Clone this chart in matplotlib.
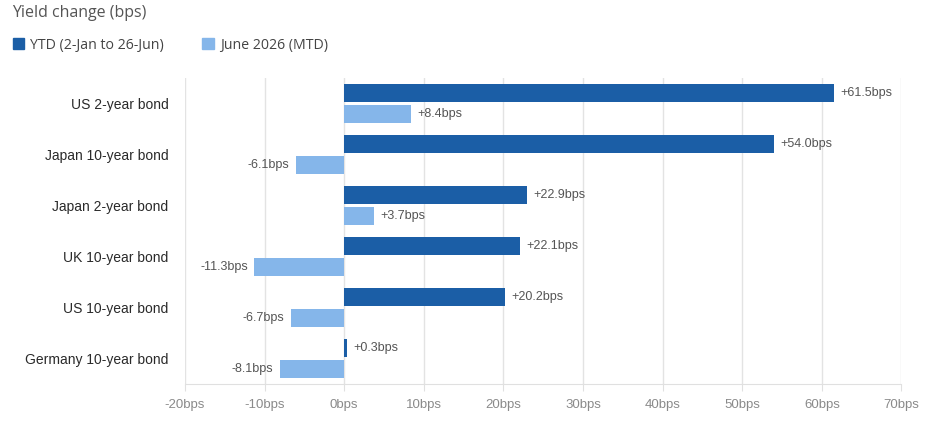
import numpy as np
import matplotlib
matplotlib.use("Agg")
import matplotlib.pyplot as plt

bonds = ["US 2-year bond", "Japan 10-year bond", "Japan 2-year bond",
         "UK 10-year bond", "US 10-year bond", "Germany 10-year bond"]
ytd = [61.5, 54.0, 22.9, 22.1, 20.2, 0.3]
mtd = [8.4, -6.1, 3.7, -11.3, -6.7, -8.1]
ticks = [-20, -10, 0, 10, 20, 30, 40, 50, 60, 70]

DARK = "#1b5ea6"
LIGHT = "#85b6ea"

plt.rcParams["font.family"] = ["Liberation Sans", "DejaVu Sans"]

fig = plt.figure(figsize=(9.27, 4.21), dpi=100)
ax = fig.add_axes([0.1996, 0.088, 0.7728, 0.727])

y = np.arange(len(bonds))
h = 0.35
off = 0.2
ax.barh(y - off, ytd, height=h, color=DARK, zorder=3)
ax.barh(y + off, mtd, height=h, color=LIGHT, zorder=3)

def fmt(v):
    return f"+{v:.1f}bps" if v >= 0 else f"{v:.1f}bps"

for i, v in enumerate(ytd):
    ax.text(v + 0.8 if v >= 0 else v - 0.8, i - off, fmt(v),
            ha="left" if v >= 0 else "right", va="center",
            fontsize=9, color="#555555", zorder=4)
for i, v in enumerate(mtd):
    ax.text(v + 0.8 if v >= 0 else v - 0.8, i + off, fmt(v),
            ha="left" if v >= 0 else "right", va="center",
            fontsize=9, color="#555555", zorder=4)

ax.set_xlim(-20, 70)
ax.set_ylim(len(bonds) - 0.5, -0.5)
ax.set_xticks(ticks)
ax.set_xticklabels([f"{t}bps" for t in ticks], color="#8a8a8a", fontsize=9.5,
                   family=["Liberation Sans Narrow", "Liberation Sans"])
ax.set_yticks(y)
ax.set_yticklabels(bonds, fontsize=10, color="#2a2a2a")
ax.tick_params(axis="y", length=0, pad=12)
ax.tick_params(axis="x", length=5, color="#e0e0e0", pad=6)
ax.grid(axis="x", color="#e3e3e3", linewidth=1, zorder=0)
for s in ["top", "right", "left"]:
    ax.spines[s].set_visible(False)
ax.spines["bottom"].set_color("#e0e0e0")

fig.text(12 / 927, 1 - 13 / 421, "Yield change (bps)", fontsize=11.5,
         color="#555555", va="center", family=["Open Sans", "DejaVu Sans"])

# legend
handles = [plt.Rectangle((0, 0), 1, 1, color=DARK),
           plt.Rectangle((0, 0), 1, 1, color=LIGHT)]
fig.legend(handles, ["YTD (2-Jan to 26-Jun)", "June 2026 (MTD)"],
           loc="center left", bbox_to_anchor=(0.0, 1 - 45 / 421), ncol=2,
           frameon=False, handlelength=0.8, handleheight=0.8,
           handletextpad=0.45, columnspacing=2.7,
           prop={"family": ["Open Sans", "DejaVu Sans"], "size": 10.2},
           labelcolor="#444444")

fig.savefig("out.png", dpi=100)
